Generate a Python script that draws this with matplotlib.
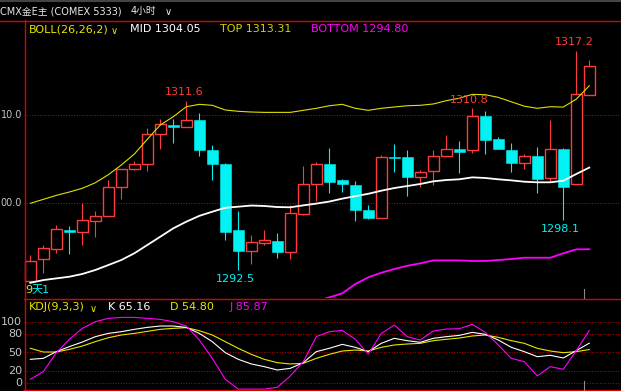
import matplotlib
matplotlib.use('Agg')
import matplotlib.pyplot as plt
from matplotlib.patches import Rectangle
from matplotlib.lines import Line2D
import numpy as np

plt.rcParams['font.family'] = ['DejaVu Sans', 'Noto Sans CJK SC']

# ---------------- data ----------------
opens = [1291.2, 1293.7, 1294.8, 1296.95, 1296.8, 1298.0, 1298.6, 1301.8, 1303.9, 1304.5,
         1307.9, 1308.9, 1308.7, 1309.4, 1306.0, 1304.5, 1297.0, 1294.6, 1295.5, 1295.7,
         1294.5, 1298.8, 1302.2, 1304.5, 1302.6, 1302.1, 1299.2, 1298.3, 1305.3, 1305.3,
         1303.0, 1303.7, 1305.4, 1306.15, 1306.0, 1309.85, 1307.25, 1306.0, 1304.6, 1305.4,
         1302.9, 1306.15, 1302.15, 1312.3]
highs = [1294.2, 1295.3, 1297.5, 1297.4, 1300.0, 1299.1, 1302.6, 1303.9, 1304.8, 1308.5,
         1309.5, 1309.5, 1311.6, 1310.2, 1306.6, 1304.6, 1299.1, 1296.4, 1297.0, 1296.6,
         1299.8, 1304.2, 1304.7, 1306.3, 1302.75, 1302.5, 1299.8, 1305.5, 1306.7, 1306.0,
         1303.8, 1306.0, 1307.7, 1307.1, 1310.8, 1310.45, 1307.5, 1306.8, 1305.6, 1306.4,
         1309.4, 1306.3, 1317.2, 1316.2]
lows = [1291.2, 1292.1, 1294.4, 1294.3, 1295.3, 1296.2, 1298.6, 1300.5, 1303.8, 1303.7,
        1306.1, 1306.8, 1308.6, 1305.4, 1302.6, 1295.8, 1292.5, 1293.1, 1295.3, 1293.8,
        1293.7, 1298.7, 1300.3, 1301.2, 1301.3, 1298.0, 1298.2, 1298.3, 1303.6, 1300.8,
        1301.8, 1302.1, 1305.3, 1303.4, 1305.7, 1305.6, 1306.1, 1303.5, 1303.9, 1301.2,
        1302.4, 1298.1, 1302.15, 1312.3]
closes = [1293.5, 1294.9, 1297.1, 1296.7, 1298.1, 1298.6, 1301.9, 1303.9, 1304.5, 1307.9,
          1309.0, 1308.7, 1309.4, 1306.0, 1304.4, 1296.8, 1294.6, 1295.6, 1295.9, 1294.5,
          1298.9, 1302.2, 1304.5, 1302.4, 1302.2, 1299.3, 1298.3, 1305.3, 1305.1, 1303.0,
          1303.5, 1305.4, 1306.1, 1305.85, 1309.85, 1307.2, 1306.2, 1304.6, 1305.4, 1302.8,
          1306.15, 1301.9, 1312.4, 1315.5]

boll_top = [1300.0, 1300.45, 1300.9, 1301.28, 1301.7, 1302.33, 1303.24, 1304.34, 1305.58, 1307.25,
            1308.87, 1309.81, 1310.94, 1311.21, 1311.1, 1310.57, 1310.42, 1310.34, 1310.3, 1310.3,
            1310.3, 1310.53, 1310.76, 1311.05, 1311.21, 1310.76, 1310.53, 1310.76, 1310.91, 1311.05,
            1311.1, 1311.25, 1311.62, 1311.9, 1312.34, 1312.3, 1312.0, 1311.5, 1311.0, 1310.76,
            1310.94, 1310.9, 1311.8, 1313.31]
boll_mid = [1291.0, 1291.31, 1291.5, 1291.69, 1292.0, 1292.45, 1293.01, 1293.58, 1294.34, 1295.28,
            1296.22, 1297.17, 1297.92, 1298.58, 1299.05, 1299.5, 1299.62, 1299.75, 1299.7, 1299.58,
            1299.55, 1299.77, 1299.97, 1300.2, 1300.53, 1300.81, 1301.08, 1301.43, 1301.73, 1301.96,
            1302.19, 1302.49, 1302.64, 1302.72, 1302.94, 1302.87, 1302.72, 1302.6, 1302.45, 1302.38,
            1302.38, 1302.56, 1303.32, 1304.05]
boll_bot = [np.nan] * 20 + [1288.3, 1288.6, 1288.95, 1289.35, 1289.81, 1290.86, 1291.62, 1292.14, 1292.56, 1292.93,
            1293.21, 1293.54, 1293.54, 1293.54, 1293.47, 1293.47, 1293.58, 1293.69, 1293.84, 1293.84,
            1293.84, 1294.34, 1294.79, 1294.80]

kdj_k = [38.9, 40.5, 51.4, 59.5, 67.0, 75.7, 81.0, 83.8, 87.6, 90.8,
         93.0, 93.0, 90.8, 81.0, 67.6, 49.7, 38.9, 31.4, 27.0, 21.6,
         24.3, 33.5, 51.4, 56.8, 63.2, 58.4, 51.4, 64.9, 73.0, 69.2,
         66.5, 73.0, 75.7, 77.8, 82.7, 79.5, 70.3, 58.4, 51.4, 43.2,
         45.4, 41.1, 53.0, 65.16]
kdj_d = [56.8, 50.8, 50.8, 55.1, 60.5, 67.6, 74.0, 78.4, 81.0, 84.3,
         87.6, 89.2, 90.3, 85.4, 78.4, 67.6, 56.8, 47.0, 38.9, 33.5,
         31.4, 32.4, 40.5, 47.0, 52.4, 54.0, 52.4, 58.4, 62.2, 63.8,
         64.9, 69.2, 71.4, 73.5, 76.8, 78.4, 74.6, 69.2, 64.9, 56.8,
         52.4, 49.7, 51.4, 54.80]
kdj_j = [6.5, 18.9, 49.7, 71.4, 89.2, 100.0, 105.4, 107.0, 107.0, 105.4,
         103.8, 100.0, 93.0, 70.3, 40.5, 6.5, -9.5, -9.5, -9.5, -6.5,
         11.9, 35.1, 75.7, 83.8, 85.9, 71.4, 47.6, 81.0, 94.6, 75.7,
         70.3, 84.9, 88.1, 88.6, 95.7, 82.7, 62.2, 40.5, 35.1, 11.9,
         27.0, 22.7, 53.0, 85.87]

price_ticks = [1310.0, 1300.0]
price_tick_labels = ['10.0', '00.0']
kdj_ticks = [100, 80, 50, 20, 0]

# ---------------- figure ----------------
W, H = 621, 391
fig = plt.figure(figsize=(W / 100, H / 100), dpi=100, facecolor='black')


def fx(px):
    return px / W


def fy(py):
    return 1 - py / H


RED = '#ff3c3c'
CYAN = '#00f2f2'
YEL = '#e6e600'
MAG = '#ff00ff'
FRAME = '#e00000'
GRID = '#b00000'
LBL = '#c4c4c4'

# main panel
ax = fig.add_axes([fx(24), fy(298), fx(621) - fx(24), fy(20) - fy(298)])
ax.set_xlim(-0.485, 45.44)
ax.set_ylim(1289.28, 1320.76)
ax.axis('off')

for t in price_ticks:
    ax.axhline(t, color=GRID, lw=0.75, ls=(0, (1, 1.5)), zorder=1)

n = len(opens)
x = np.arange(n)
bw = 0.82
for i in range(n):
    o, h, l, c = opens[i], highs[i], lows[i], closes[i]
    up = c >= o
    col = RED if up else CYAN
    ax.plot([i, i], [l, h], color=col, lw=0.8, zorder=2, solid_capstyle='butt')
    lo, hi = min(o, c), max(o, c)
    if up:
        ax.add_patch(Rectangle((i - bw / 2, lo), bw, hi - lo, facecolor='black',
                               edgecolor=col, lw=1.0, zorder=3))
    else:
        ax.add_patch(Rectangle((i - bw / 2, lo), bw, max(hi - lo, 0.2), facecolor=col,
                               edgecolor=col, lw=0.4, zorder=3))

ax.plot(x, boll_top, color='#e0e000', lw=0.8, zorder=4)
ax.plot(x, boll_mid, color='white', lw=1.3, zorder=4)
ax.plot(x, boll_bot, color=MAG, lw=1.3, zorder=4)

# high / low annotations
ann = [(12, highs[12], '1311.6', RED, -2, 8.5),
       (34, highs[34], '1310.8', RED, -3, 8),
       (42, highs[42], '1317.2', RED, -2, 9),
       (16, lows[16], '1292.5', CYAN, -3, -9),
       (41, lows[41], '1298.1', CYAN, -3, -9)]
for i, v, s, col, dx, dy in ann:
    ax.annotate(s, xy=(i, v), xytext=(dx, dy), textcoords='offset pixels',
                ha='center', va='center', color=col, fontsize=8, zorder=6)

# KDJ panel
ax2 = fig.add_axes([fx(24), fy(390), fx(621) - fx(24), fy(298) - fy(390)])
ax2.set_xlim(-0.485, 45.44)
ax2.set_ylim(-10.9, 138.5)
ax2.axis('off')
for t in kdj_ticks:
    ax2.axhline(t, color=GRID, lw=0.75, ls=(0, (1, 1.5)), zorder=1)
ax2.plot(x, kdj_d, color='#e6e600', lw=0.8, zorder=3)
ax2.plot(x, kdj_k, color='white', lw=0.8, zorder=4)
ax2.plot(x, kdj_j, color=MAG, lw=0.8, zorder=5)


# frame lines
def hline(y, x0, x1, color, lw):
    fig.add_artist(Line2D([fx(x0), fx(x1)], [fy(y), fy(y)], color=color, lw=lw,
                          transform=fig.transFigure))


def vline(xp, y0, y1, color, lw):
    fig.add_artist(Line2D([fx(xp), fx(xp)], [fy(y0), fy(y1)], color=color, lw=lw,
                          transform=fig.transFigure))


hline(0.8, 0, W, '#444444', 1.5)
hline(20.5, 0, W, FRAME, 1.0)
hline(298.5, 24, W, FRAME, 1.0)
hline(390, 24, W, FRAME, 1.0)
vline(24.5, 20, H, FRAME, 1.0)
vline(583.5, 289, 298, '#8a8a8a', 0.8)
vline(583.5, 381, 390, '#8a8a8a', 0.8)

# tick labels
for t, s in zip(price_ticks, price_tick_labels):
    py = 115 + (1310.0 - t) * 8.83
    fig.text(fx(22), fy(py), s, ha='right', va='center', color=LBL, fontsize=7)
for t in kdj_ticks:
    py = 383.3 - t * 0.616
    fig.text(fx(22), fy(py), str(t), ha='right', va='center', color=LBL, fontsize=8)

# title & headers
fig.text(fx(0), fy(11), 'CMX金E主 (COMEX 5333)', ha='left', va='center',
         color='#e8e8e8', fontsize=7)
fig.text(fx(131), fy(11), '4小时', ha='left', va='center', color='#e8e8e8', fontsize=7)
fig.text(fx(165), fy(12), '∨', ha='left', va='center', color='#e8e8e8', fontsize=7)

fig.text(fx(29), fy(29), 'BOLL(26,26,2)', ha='left', va='center', color=YEL, fontsize=8)
fig.text(fx(111), fy(31), '∨', ha='left', va='center', color=YEL, fontsize=7)
fig.text(fx(130), fy(29), 'MID 1304.05', ha='left', va='center', color='white', fontsize=8)
fig.text(fx(220), fy(29), 'TOP 1313.31', ha='left', va='center', color='#d4d400', fontsize=8)
fig.text(fx(311), fy(29), 'BOTTOM 1294.80', ha='left', va='center', color=MAG, fontsize=8)

fig.text(fx(29), fy(307), 'KDJ(9,3,3)', ha='left', va='center', color=YEL, fontsize=8)
fig.text(fx(90), fy(309), '∨', ha='left', va='center', color=YEL, fontsize=7)
fig.text(fx(108), fy(307), 'K 65.16', ha='left', va='center', color='white', fontsize=8)
fig.text(fx(170), fy(307), 'D 54.80', ha='left', va='center', color=YEL, fontsize=8)
fig.text(fx(230), fy(307), 'J 85.87', ha='left', va='center', color=MAG, fontsize=8)

fig.text(fx(25), fy(290), '9', ha='left', va='center', color=YEL, fontsize=8)
fig.text(fx(31.5), fy(290), '天1', ha='left', va='center', color=CYAN, fontsize=8)

fig.savefig('out.png', dpi=100, facecolor='black')
